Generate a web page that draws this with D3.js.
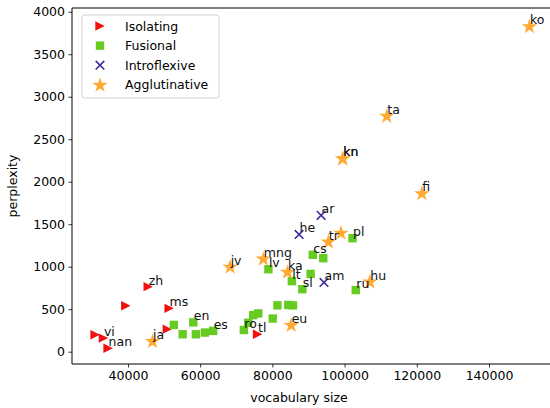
<!DOCTYPE html>
<html>
<head>
<meta charset="utf-8">
<script src="https://cdn.jsdelivr.net/npm/d3@7"></script>
<style>
  html, body { margin: 0; padding: 0; background: #fff; }
  svg { display: block; font-family: "DejaVu Sans", sans-serif; }
</style>
</head>
<body>
<svg id="chart" width="550" height="408"></svg>
<script>
// ---- data ----
const isolating = [
  {lang: "", x: 30900, y: 200},
  {lang: "vi", x: 33200, y: 160},
  {lang: "nan", x: 34500, y: 40},
  {lang: "", x: 39400, y: 540},
  {lang: "zh", x: 45600, y: 765},
  {lang: "ms", x: 51400, y: 510},
  {lang: "", x: 50900, y: 265},
  {lang: "tl", x: 75900, y: 205}
];
const fusional = [
  {lang: "", x: 52700, y: 315},
  {lang: "", x: 55150, y: 205},
  {lang: "en", x: 58100, y: 345},
  {lang: "", x: 58800, y: 205},
  {lang: "", x: 61300, y: 225},
  {lang: "es", x: 63600, y: 245},
  {lang: "ro", x: 72100, y: 255},
  {lang: "", x: 73300, y: 340},
  {lang: "", x: 74700, y: 430},
  {lang: "", x: 76100, y: 450},
  {lang: "", x: 80100, y: 390},
  {lang: "", x: 81400, y: 545},
  {lang: "", x: 84400, y: 550},
  {lang: "", x: 85700, y: 545},
  {lang: "lv", x: 78900, y: 970},
  {lang: "lt", x: 85400, y: 830},
  {lang: "sl", x: 88300, y: 735},
  {lang: "", x: 90600, y: 915},
  {lang: "cs", x: 91200, y: 1140},
  {lang: "", x: 94100, y: 1100},
  {lang: "pl", x: 102200, y: 1335},
  {lang: "ru", x: 103100, y: 725}
];
const introflexive = [
  {lang: "ar", x: 93500, y: 1605},
  {lang: "he", x: 87400, y: 1380},
  {lang: "am", x: 94300, y: 815}
];
const agglutinative = [
  {lang: "ja", x: 46800, y: 125},
  {lang: "jv", x: 68300, y: 1000},
  {lang: "mng", x: 77500, y: 1095},
  {lang: "ka", x: 84200, y: 940},
  {lang: "eu", x: 85200, y: 315},
  {lang: "tr", x: 95500, y: 1295},
  {lang: "", x: 99000, y: 1400},
  {lang: "hu", x: 107000, y: 825},
  {lang: "kn", x: 99500, y: 2275},
  {lang: "kn", x: 99500, y: 2275},
  {lang: "ta", x: 111700, y: 2775},
  {lang: "fi", x: 121400, y: 1865},
  {lang: "ko", x: 151200, y: 3830}
];
const xTicks = [40000, 60000, 80000, 100000, 120000, 140000];
const yTicks = [0, 500, 1000, 1500, 2000, 2500, 3000, 3500, 4000];
const seriesNames = ["Isolating", "Fusional", "Introflexive", "Agglutinative"];
const xTitle = "vocabulary size";
const yTitle = "perplexity";

// ---- styles ----
const colors = ["#f01010", "#66cc22", "#3f2a9c", "#ffab33"];
const FONT = 12.5;

const svg = d3.select("#chart");
const L = 72, R = 550, T = 8, B = 364;
const x = d3.scaleLinear().domain([24500, 156900]).range([L, R]);
const y = d3.scaleLinear().domain([-145, 4044]).range([B, T]);

// symbol drawers
function drawMarker(g, type, cx, cy, color) {
  if (type === 0) { // right triangle
    const s = 4.7;
    g.append("path")
      .attr("d", `M${cx + s},${cy} L${cx - s},${cy - s} L${cx - s},${cy + s} Z`)
      .attr("fill", color);
  } else if (type === 1) { // square
    const s = 4.2;
    g.append("rect").attr("x", cx - s).attr("y", cy - s)
      .attr("width", 2 * s).attr("height", 2 * s).attr("fill", color);
  } else if (type === 2) { // x
    const s = 4.3;
    g.append("path")
      .attr("d", `M${cx - s},${cy - s} L${cx + s},${cy + s} M${cx - s},${cy + s} L${cx + s},${cy - s}`)
      .attr("stroke", color).attr("stroke-width", 1.6).attr("fill", "none");
  } else { // star
    const star = d3.symbol().type(d3.symbolStar).size(74)();
    g.append("path").attr("d", star)
      .attr("transform", `translate(${cx},${cy + 0.5})`)
      .attr("fill", color);
  }
}

const all = [isolating, fusional, introflexive, agglutinative];
const marks = svg.append("g");
all.forEach((arr, i) => {
  arr.forEach(d => drawMarker(marks, i, x(d.x), y(d.y), colors[i]));
});
const labels = svg.append("g").attr("font-size", FONT).attr("fill", "#111");
all.forEach(arr => {
  arr.forEach(d => {
    if (!d.lang) return;
    labels.append("text").attr("x", x(d.x) + 0.5).attr("y", y(d.y) - 2).text(d.lang);
  });
});

// axes
const xAxis = d3.axisBottom(x).tickValues(xTicks).tickSize(3.5).tickPadding(3.5).tickFormat(d3.format("d"));
const yAxis = d3.axisLeft(y).tickValues(yTicks).tickSize(3.5).tickPadding(3.5).tickFormat(d3.format("d"));
const gx = svg.append("g").attr("transform", `translate(0,${B})`).call(xAxis);
const gy = svg.append("g").attr("transform", `translate(${L},0)`).call(yAxis);
[gx, gy].forEach(g => {
  g.select(".domain").remove();
  g.selectAll("line").attr("stroke", "#000").attr("stroke-width", 0.8);
  g.selectAll("text").attr("font-size", FONT).attr("font-family", "DejaVu Sans").attr("fill", "#000");
});
// spines
svg.append("line").attr("x1", L).attr("x2", R).attr("y1", B).attr("y2", B).attr("stroke", "#000").attr("stroke-width", 1);
svg.append("line").attr("x1", L).attr("x2", R).attr("y1", T).attr("y2", T).attr("stroke", "#000").attr("stroke-width", 1);
svg.append("line").attr("x1", L).attr("x2", L).attr("y1", T).attr("y2", B).attr("stroke", "#000").attr("stroke-width", 1);

// titles
svg.append("text").attr("x", 299).attr("y", 402).attr("text-anchor", "middle")
  .attr("font-size", FONT).text(xTitle);
svg.append("text").attr("transform", `translate(17,${(T + B) / 2}) rotate(-90)`)
  .attr("text-anchor", "middle").attr("font-size", FONT).text(yTitle);

// legend
const lg = svg.append("g");
lg.append("rect").attr("x", 82).attr("y", 15).attr("width", 137).attr("height", 83)
  .attr("rx", 2.5).attr("fill", "#fff").attr("fill-opacity", 0.8)
  .attr("stroke", "#d0d0d0").attr("stroke-width", 1);
seriesNames.forEach((name, i) => {
  const cy = 26 + i * 19.6;
  drawMarker(lg, i, 100, cy, colors[i]);
  lg.append("text").attr("x", 125).attr("y", cy + 4.5).attr("font-size", FONT).text(name);
});
</script>
</body>
</html>
